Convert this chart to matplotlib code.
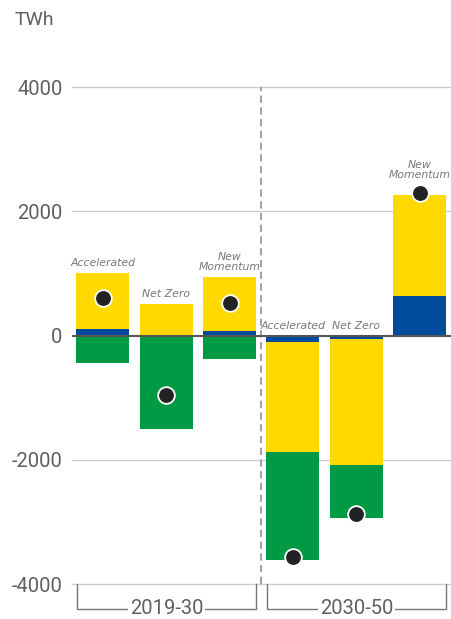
import numpy as np
import matplotlib
matplotlib.use("Agg")
import matplotlib.pyplot as plt

plt.rcParams['font.family'] = ['Roboto', 'DejaVu Sans']

scenarios = ["Accelerated", "Net Zero", "New\nMomentum",
             "Accelerated", "Net Zero", "New\nMomentum"]
blue = [110, 10, 70, -110, -60, 640]
yellow = [900, 505, 880, -1760, -2030, 1630]
green = [-435, -1500, -385, -1740, -840, 0]
net = [600, -960, 530, -3570, -2880, 2300]
periods = ["2019-30", "2030-50"]
yticks = [-4000, -2000, 0, 2000, 4000]

c_yellow = "#FFD900"
c_blue = "#004B9B"
c_green = "#009A44"
c_dot = "#222222"
c_text = "#5f5f5f"

fig = plt.figure(figsize=(4.51, 6.19), dpi=100)
ax = fig.add_axes([0.16, 0.0565, 0.84, 0.883])

x = np.arange(len(scenarios))
w = 0.835
blue = np.array(blue)
yellow = np.array(yellow)
green = np.array(green)

# blue starts at zero, yellow stacks on blue, green on the other side
ax.bar(x, blue, w, color=c_blue, zorder=2)
ax.bar(x, yellow, w, bottom=blue, color=c_yellow, zorder=2)
g_bottom = np.where(blue + yellow < 0, blue + yellow, 0)
ax.bar(x, green, w, bottom=g_bottom, color=c_green, zorder=2)

ax.plot(x, net, 'o', ms=12, color=c_dot, mec='white', mew=1.3, zorder=4)

tops = np.maximum(np.maximum(blue + yellow, 0), np.array(net) + 130)
for xi, t, lab in zip(x, tops, scenarios):
    ax.text(xi, max(t, 0) + 80, lab, ha='center', va='bottom', fontsize=7.8,
            style='italic', color='#777777', linespacing=0.95,
            family=['Liberation Sans Narrow', 'DejaVu Sans'], clip_on=False, zorder=5)

ax.set_xlim(-0.48, 5.49)
ax.set_ylim(-4000, 4800)
ax.set_yticks(yticks)
ax.set_yticklabels([str(v) for v in yticks])
ax.tick_params(axis='y', length=0, labelsize=14.5, colors=c_text, pad=7)
ax.set_xticks([])
for s in ax.spines.values():
    s.set_visible(False)
for v in yticks:
    if v == 0:
        continue
    ax.axhline(v, color='#cccccc', lw=1, zorder=1, clip_on=False)
ax.axhline(0, color='#555555', lw=1.5, zorder=3)
ax.plot([2.5, 2.5], [-4000, 4000], ls='--', color='#999999', lw=1.3,
        dashes=(4, 2.5), zorder=1, clip_on=False)

# period brackets under the chart
yb = -4400
for (x0, x1), lab in zip([(-0.4, 2.42), (2.59, 5.41)], periods):
    ax.plot([x0, x0, x1, x1], [-4000, yb, yb, -4000], color='#777777', lw=1,
            clip_on=False)
    ax.text((x0 + x1) / 2, yb, lab, ha='center', va='center', fontsize=14.5,
            color=c_text, bbox=dict(fc='white', ec='none', pad=1.5), clip_on=False)

fig.text(15 / 451, 1 - 20 / 619, "TWh", ha='left', va='center', fontsize=14,
         color=c_text)

fig.savefig("out.png", dpi=100)
